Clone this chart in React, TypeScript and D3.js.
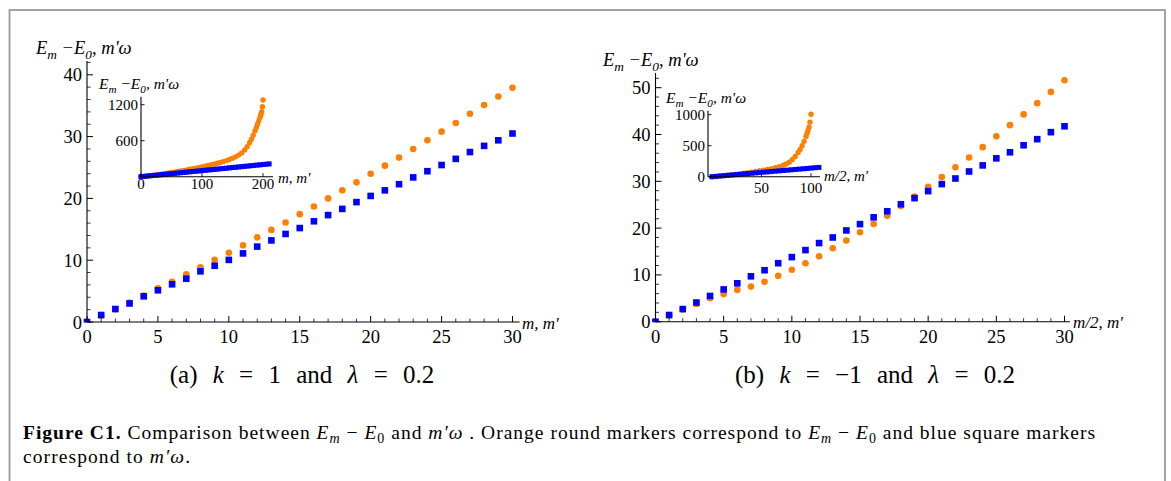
import React from 'react';
import * as d3 from 'd3';

// ---------- data ----------
const MAIN_M = [0, 1, 2, 3, 4, 5, 6, 7, 8, 9, 10, 11, 12, 13, 14, 15, 16, 17, 18, 19, 20, 21, 22, 23, 24, 25, 26, 27, 28, 29, 30];

// (a) k = 1, lambda = 0.2
const A_ORANGE = [0, 1.0, 2.05, 3.15, 4.3, 5.45, 6.5, 7.7, 8.85, 10.05, 11.2, 12.4, 13.7, 14.9, 16.1, 17.45, 18.7, 20.0, 21.3, 22.6, 24.0, 25.3, 26.6, 28.0, 29.4, 30.8, 32.2, 33.7, 35.1, 36.5, 37.9];
const A_BLUE = [0, 1.13, 2.1, 3.0, 4.16, 5.13, 6.1, 7.0, 8.2, 9.1, 10.05, 11.1, 12.2, 13.2, 14.25, 15.2, 16.3, 17.3, 18.3, 19.4, 20.4, 21.3, 22.3, 23.4, 24.4, 25.4, 26.4, 27.5, 28.5, 29.4, 30.5];

// (b) k = -1, lambda = 0.2
const B_ORANGE = [0, 1.35, 2.6, 3.8, 5.0, 5.9, 6.8, 7.5, 8.55, 9.8, 11.1, 12.5, 14.0, 15.7, 17.35, 19.1, 20.9, 22.65, 24.7, 26.75, 28.8, 30.9, 33.0, 35.1, 37.3, 39.6, 42.0, 44.3, 46.7, 49.1, 51.6];
const B_BLUE = [0, 1.43, 2.7, 4.1, 5.5, 6.9, 8.2, 9.7, 11.0, 12.5, 13.8, 15.3, 16.8, 18.0, 19.5, 20.85, 22.3, 23.6, 25.1, 26.4, 27.9, 29.4, 30.6, 32.1, 33.4, 34.9, 36.2, 37.7, 39.0, 40.5, 41.75];

// inset (a)
const A_INSET_ORANGE_M = [0, 5, 10, 15, 20, 25, 30, 35, 40, 45, 50, 55, 60, 65, 70, 75, 80, 85, 90, 95, 100, 105, 110, 115, 120, 125, 130, 135, 140, 145, 150, 155, 160, 165, 170, 174, 178, 181, 184, 187, 189, 191, 193, 195, 196, 197, 198, 199, 200];
const A_INSET_ORANGE = [0, 5.4, 11.2, 17.4, 24, 30.8, 37.9, 45, 53, 61, 69, 77, 86, 95, 104, 113, 123, 133, 143, 153, 164, 175, 186, 198, 210, 223, 237, 252, 268, 286, 307, 331, 360, 397, 445, 500, 565, 625, 690, 765, 820, 875, 930, 985, 1020, 1050, 1083, 1167, 1278];
const A_INSET_BLUE_M = [0, 5, 10, 15, 20, 25, 30, 35, 40, 45, 50, 55, 60, 65, 70, 75, 80, 85, 90, 95, 100, 105, 110, 115, 120, 125, 130, 135, 140, 145, 150, 155, 160, 165, 170, 175, 180, 185, 190, 195, 200, 205, 210];
const A_INSET_BLUE = [0, 5.1, 10.2, 15.2, 20.3, 25.4, 30.5, 35.5, 40.6, 45.7, 50.8, 55.8, 60.9, 66.0, 71.1, 76.1, 81.2, 86.3, 91.4, 96.4, 101.5, 106.6, 111.7, 116.7, 121.8, 126.9, 132.0, 137.0, 142.1, 147.2, 152.3, 157.3, 162.4, 167.5, 172.6, 177.6, 182.7, 187.8, 192.9, 197.9, 203.0, 208.1, 213.2];

// inset (b)
const B_INSET_ORANGE_M = [0, 4, 8, 12, 16, 20, 24, 28, 32, 36, 40, 44, 48, 52, 56, 60, 64, 68, 72, 75, 78, 81, 84, 87, 89, 91, 93, 95, 96, 97, 98, 99, 100];
const B_INSET_ORANGE = [0, 5, 11, 17, 23, 30, 38, 46, 55, 64, 74, 84, 95, 106, 118, 131, 146, 163, 184, 205, 235, 275, 325, 390, 440, 500, 570, 650, 700, 750, 800, 880, 1008];
const B_INSET_BLUE_M = [0, 4, 8, 12, 16, 20, 24, 28, 32, 36, 40, 44, 48, 52, 56, 60, 64, 68, 72, 76, 80, 84, 88, 92, 96, 100, 104, 108];
const B_INSET_BLUE = [0, 5.6, 11.1, 16.7, 22.2, 27.8, 33.4, 38.9, 44.5, 50.0, 55.6, 61.2, 66.7, 72.3, 77.8, 83.4, 89.0, 94.5, 100.1, 105.6, 111.2, 116.8, 122.3, 127.9, 133.4, 139.0, 144.6, 150.1];

// ticks
const MAIN_X_MAJOR = [0, 5, 10, 15, 20, 25, 30];
const A_Y_MAJOR = [0, 10, 20, 30, 40];
const B_Y_MAJOR = [0, 10, 20, 30, 40, 50];
const A_INSET_X_TICKS = [0, 100, 200];
const A_INSET_Y_TICKS = [600, 1200];
const B_INSET_X_TICKS = [50, 100];
const B_INSET_Y_TICKS = [0, 500, 1000];

// ---------- style ----------
const FONT = "'Liberation Serif', 'Times New Roman', Times, 'DejaVu Serif', serif";
const ORANGE = '#ff8000';
const BLUE = '#0000ff';

type Lin = d3.ScaleLinear<number, number>;

function T(props: any) {
  const { size, italic, bold, style, children, ...rest } = props;
  return (
    <text
      {...rest}
      fill="#000"
      style={{ fontFamily: FONT, fontSize: size, fontStyle: italic ? 'italic' : 'normal', fontWeight: bold ? 'bold' : 'normal', ...(style || {}) }}
    >
      {children}
    </text>
  );
}

function EnergyLabel({ x, y, size }: { x: number; y: number; size: number }) {
  const sub = size * 0.72;
  const d = size * 0.28;
  return (
    <T x={x} y={y} size={size} italic>
      <tspan>E</tspan>
      <tspan style={{ fontSize: sub }} dy={d}>m</tspan>
      <tspan dy={-d}> −E</tspan>
      <tspan style={{ fontSize: sub }} dy={d}>0</tspan>
      <tspan dy={-d}>, m'ω</tspan>
    </T>
  );
}

function Markers({ ms, vals, xs, ys, kind, size, clip }: { ms: number[]; vals: number[]; xs: Lin; ys: Lin; kind: 'c' | 's'; size: number; clip?: string }) {
  return (
    <g clipPath={clip ? `url(#${clip})` : undefined}>
      {ms.map((m, i) =>
        kind === 'c' ? (
          <circle key={i} cx={xs(m)} cy={ys(vals[i])} r={size} fill={ORANGE} />
        ) : (
          <rect key={i} x={xs(m) - size / 2} y={ys(vals[i]) - size / 2} width={size} height={size} fill={BLUE} />
        )
      )}
    </g>
  );
}

function MainPanel(props: {
  id: string; xs: Lin; ys: Lin; xEnd: number; yTop: number; yMajor: number[];
  orange: number[]; blue: number[]; xLabel: string; xLabelX: number; yLabelX: number; yLabelY: number;
}) {
  const { id, xs, ys, xEnd, yTop, yMajor, orange, blue } = props;
  const x0 = xs(0), y0 = ys(0);
  const xMinor = d3.range(1, Math.floor(xEnd) + 1).filter((v) => v % 5 !== 0);
  const yMinor = d3.range(2, Math.floor(ys.invert(yTop)) + 1, 2).filter((v) => v % 10 !== 0);
  return (
    <g>
      <defs>
        <clipPath id={id}>
          <rect x={x0 - 4} y={0} width={xs(xEnd) - x0 + 10} height={y0 + 0.5} />
        </clipPath>
      </defs>
      <Markers ms={MAIN_M} vals={orange} xs={xs} ys={ys} kind="c" size={3.3} clip={id} />
      <Markers ms={MAIN_M} vals={blue} xs={xs} ys={ys} kind="s" size={6.6} clip={id} />
      <line x1={x0} x2={xs(xEnd)} y1={y0} y2={y0} stroke="#000" strokeWidth={1.1} />
      <line x1={x0} x2={x0} y1={y0} y2={yTop} stroke="#000" strokeWidth={1.1} />
      {MAIN_X_MAJOR.map((v) => (
        <line key={'xM' + v} x1={xs(v)} x2={xs(v)} y1={y0} y2={y0 - 6} stroke="#000" strokeWidth={1} />
      ))}
      {xMinor.map((v) => (
        <line key={'xm' + v} x1={xs(v)} x2={xs(v)} y1={y0} y2={y0 - 3.5} stroke="#000" strokeWidth={0.8} />
      ))}
      {yMajor.map((v) => (
        <line key={'yM' + v} x1={x0} x2={x0 + 6} y1={ys(v)} y2={ys(v)} stroke="#000" strokeWidth={1} />
      ))}
      {yMinor.map((v) => (
        <line key={'ym' + v} x1={x0} x2={x0 + 3.5} y1={ys(v)} y2={ys(v)} stroke="#000" strokeWidth={0.8} />
      ))}
      {MAIN_X_MAJOR.map((v) => (
        <T key={'xl' + v} x={xs(v)} y={y0 + 21} textAnchor="middle" size={18.5}>{v}</T>
      ))}
      {yMajor.map((v) => (
        <T key={'yl' + v} x={x0 - 5} y={ys(v) + 6.5} textAnchor="end" size={18.5}>{v}</T>
      ))}
      <T x={props.xLabelX} y={y0 + 6.5} size={17} italic>{props.xLabel}</T>
      <EnergyLabel x={props.yLabelX} y={props.yLabelY} size={18.5} />
    </g>
  );
}

function InsetPanel(props: {
  xs: Lin; ys: Lin; axisX: number; xRight: number; yTop: number; xTicks: number[]; yTicks: number[];
  om: number[]; ov: number[]; bm: number[]; bv: number[]; xLabel: string; xLabelX: number; xLabelY: number;
  yLabelX: number; yLabelY: number; xTickY: number;
}) {
  const { xs, ys, axisX, xRight, yTop } = props;
  const y0 = ys(0);
  return (
    <g>
      <Markers ms={props.om} vals={props.ov} xs={xs} ys={ys} kind="c" size={2.7} />
      <Markers ms={props.bm} vals={props.bv} xs={xs} ys={ys} kind="s" size={5} />
      <line x1={axisX} x2={xRight} y1={y0} y2={y0} stroke="#000" strokeWidth={1.1} />
      <line x1={axisX} x2={axisX} y1={y0} y2={yTop} stroke="#000" strokeWidth={1.1} />
      {props.xTicks.map((v) => (
        <line key={'xt' + v} x1={xs(v)} x2={xs(v)} y1={y0} y2={y0 - 3.5} stroke="#000" strokeWidth={0.9} />
      ))}
      {props.yTicks.map((v) => (
        <line key={'yt' + v} x1={axisX} x2={axisX + 3.5} y1={ys(v)} y2={ys(v)} stroke="#000" strokeWidth={0.9} />
      ))}
      {props.xTicks.map((v) => (
        <T key={'xl' + v} x={xs(v)} y={props.xTickY} textAnchor="middle" size={15}>{v}</T>
      ))}
      {props.yTicks.map((v) => (
        <T key={'yl' + v} x={axisX - 3} y={ys(v) + 5} textAnchor="end" size={15}>{v}</T>
      ))}
      <T x={props.xLabelX} y={props.xLabelY} size={15} italic>{props.xLabel}</T>
      <EnergyLabel x={props.yLabelX} y={props.yLabelY} size={15.5} />
    </g>
  );
}

export default function App() {
  const axs = d3.scaleLinear().domain([0, 30]).range([87, 512.5]);
  const ays = d3.scaleLinear().domain([0, 40]).range([322, 74.8]);
  const bxs = d3.scaleLinear().domain([0, 30]).range([655.5, 1064.5]);
  const bys = d3.scaleLinear().domain([0, 50]).range([321.7, 87.7]);

  const aixs = d3.scaleLinear().domain([0, 200]).range([141, 263]);
  const aiys = d3.scaleLinear().domain([0, 1200]).range([176.7, 104.7]);
  const bixs = d3.scaleLinear().domain([0, 100]).range([712, 811]);
  const biys = d3.scaleLinear().domain([0, 1000]).range([176.7, 114.7]);

  const cs = 19.5;
  const sub = { fontSize: cs * 0.72 };
  return (
    <svg width={1171} height={481} style={{ position: 'absolute', left: 0, top: 0, background: '#fff' }}>
      <rect x={0} y={0} width={1171} height={481} fill="#fff" />
      <rect x={9.5} y={10} width={1155.5} height={500} fill="none" stroke="#9a9a9a" strokeWidth={1.8} />

      <MainPanel id="clipA" xs={axs} ys={ays} xEnd={30.5} yTop={61} yMajor={A_Y_MAJOR}
        orange={A_ORANGE} blue={A_BLUE} xLabel="m, m′" xLabelX={522} yLabelX={36} yLabelY={53.5} />
      <MainPanel id="clipB" xs={bxs} ys={bys} xEnd={30.4} yTop={73} yMajor={B_Y_MAJOR}
        orange={B_ORANGE} blue={B_BLUE} xLabel="m/2, m′" xLabelX={1073} yLabelX={603} yLabelY={66} />

      <InsetPanel xs={aixs} ys={aiys} axisX={141} xRight={273} yTop={96.7} xTicks={A_INSET_X_TICKS} yTicks={A_INSET_Y_TICKS}
        om={A_INSET_ORANGE_M} ov={A_INSET_ORANGE} bm={A_INSET_BLUE_M} bv={A_INSET_BLUE}
        xLabel="m, m′" xLabelX={278} xLabelY={183} yLabelX={99} yLabelY={88.5} xTickY={189} />
      <InsetPanel xs={bixs} ys={biys} axisX={708} xRight={820} yTop={110.7} xTicks={B_INSET_X_TICKS} yTicks={B_INSET_Y_TICKS}
        om={B_INSET_ORANGE_M} ov={B_INSET_ORANGE} bm={B_INSET_BLUE_M} bv={B_INSET_BLUE}
        xLabel="m/2, m′" xLabelX={824} xLabelY={181} yLabelX={666} yLabelY={102.5} xTickY={193} />

      <T x={302} y={383} textAnchor="middle" size={25} style={{ wordSpacing: '9px' }}>
        <tspan>(a) </tspan><tspan style={{ fontStyle: 'italic' }}>k</tspan><tspan> = 1 and </tspan><tspan style={{ fontStyle: 'italic' }}>λ</tspan><tspan> = 0.2</tspan>
      </T>
      <T x={875} y={383} textAnchor="middle" size={25} style={{ wordSpacing: '9px' }}>
        <tspan>(b) </tspan><tspan style={{ fontStyle: 'italic' }}>k</tspan><tspan> = −1 and </tspan><tspan style={{ fontStyle: 'italic' }}>λ</tspan><tspan> = 0.2</tspan>
      </T>

      <T x={23} y={439} size={cs} textLength={1072} lengthAdjust="spacing">
        <tspan style={{ fontWeight: 'bold' }}>Figure C1.</tspan>
        <tspan> Comparison between </tspan>
        <tspan style={{ fontStyle: 'italic' }}>E</tspan><tspan style={{ ...sub, fontStyle: 'italic' }} dy={4}>m</tspan>
        <tspan dy={-4}> − </tspan>
        <tspan style={{ fontStyle: 'italic' }}>E</tspan><tspan style={sub} dy={4}>0</tspan>
        <tspan dy={-4}> and </tspan><tspan style={{ fontStyle: 'italic' }}>m′ω</tspan>
        <tspan> . Orange round markers correspond to </tspan>
        <tspan style={{ fontStyle: 'italic' }}>E</tspan><tspan style={{ ...sub, fontStyle: 'italic' }} dy={4}>m</tspan>
        <tspan dy={-4}> − </tspan>
        <tspan style={{ fontStyle: 'italic' }}>E</tspan><tspan style={sub} dy={4}>0</tspan>
        <tspan dy={-4}> and blue square markers</tspan>
      </T>
      <T x={23} y={463} size={cs} textLength={167} lengthAdjust="spacing">
        <tspan>correspond to </tspan><tspan style={{ fontStyle: 'italic' }}>m′ω</tspan><tspan>.</tspan>
      </T>
    </svg>
  );
}
